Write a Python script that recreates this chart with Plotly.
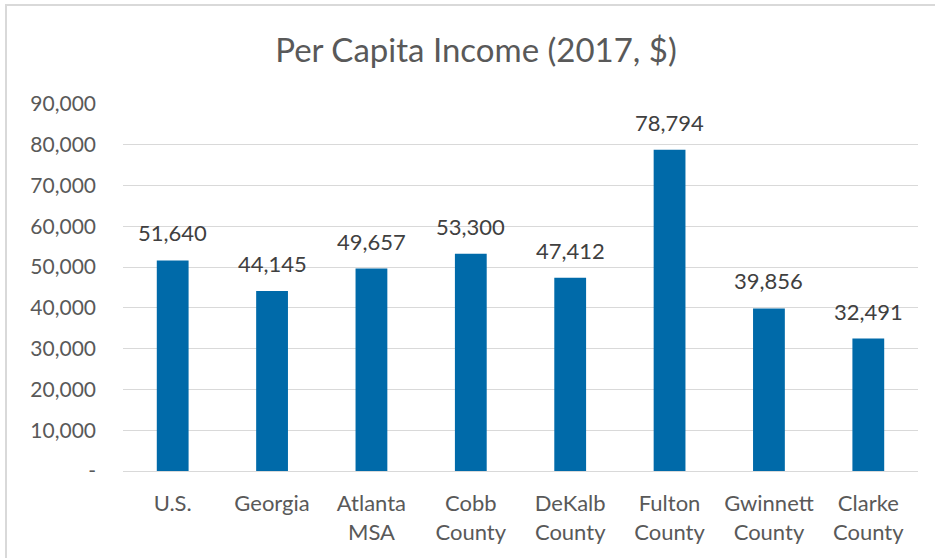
import plotly.graph_objects as go

categories = ["U.S.", "Georgia", "Atlanta<br>MSA", "Cobb<br>County", "DeKalb<br>County",
              "Fulton<br>County", "Gwinnett<br>County", "Clarke<br>County"]
values = [51640, 44145, 49657, 53300, 47412, 78794, 39856, 32491]
y_ticks = [0, 10000, 20000, 30000, 40000, 50000, 60000, 70000, 80000, 90000]
y_ticktext = ["-", "10,000", "20,000", "30,000", "40,000", "50,000", "60,000", "70,000", "80,000", "90,000"]
title_text = "Per Capita Income (2017, $)"

FONT = "Lato"
GRAY = "#595959"

fig = go.Figure(go.Bar(
    x=categories, y=values,
    marker=dict(color="#006AA9", line=dict(width=0)),
    cliponaxis=False,
))

annotations = [
    dict(x=c, y=v, xref="x", yref="y", text=f"{v:,}", showarrow=False,
         yanchor="bottom", yshift=12,
         font=dict(family=FONT, size=22, color="#404040"))
    for c, v in zip(categories, values)
]

fig.update_layout(
    width=935, height=558,
    margin=dict(l=123, r=17, t=104, b=87),
    paper_bgcolor="white", plot_bgcolor="white",
    bargap=0.68,
    showlegend=False,
    annotations=annotations,
    title=dict(text=title_text, x=476/935, xanchor="center", y=1-50/558, yanchor="middle",
               font=dict(family=FONT, size=33, color=GRAY)),
    font=dict(family=FONT, color=GRAY),
    xaxis=dict(showgrid=False, showline=False, zeroline=False,
               tickfont=dict(family=FONT, size=22, color=GRAY),
               ticklabelstandoff=17),
    yaxis=dict(range=[0, 90000], tickvals=y_ticks, ticktext=y_ticktext,
               showgrid=True, gridcolor="#D9D9D9", gridwidth=1,
               zeroline=True, zerolinecolor="#D9D9D9", zerolinewidth=1,
               showline=False,
               tickfont=dict(family=FONT, size=21, color=GRAY),
               ticklabelstandoff=26),
    shapes=[dict(type="rect", xref="paper", yref="paper",
                 x0=(6-123)/795, x1=1.2, y0=-0.5, y1=1+(104-5)/367,
                 line=dict(color="#D9D9D9", width=2), fillcolor="rgba(0,0,0,0)", layer="below")],
)

fig.write_html("out.html")
